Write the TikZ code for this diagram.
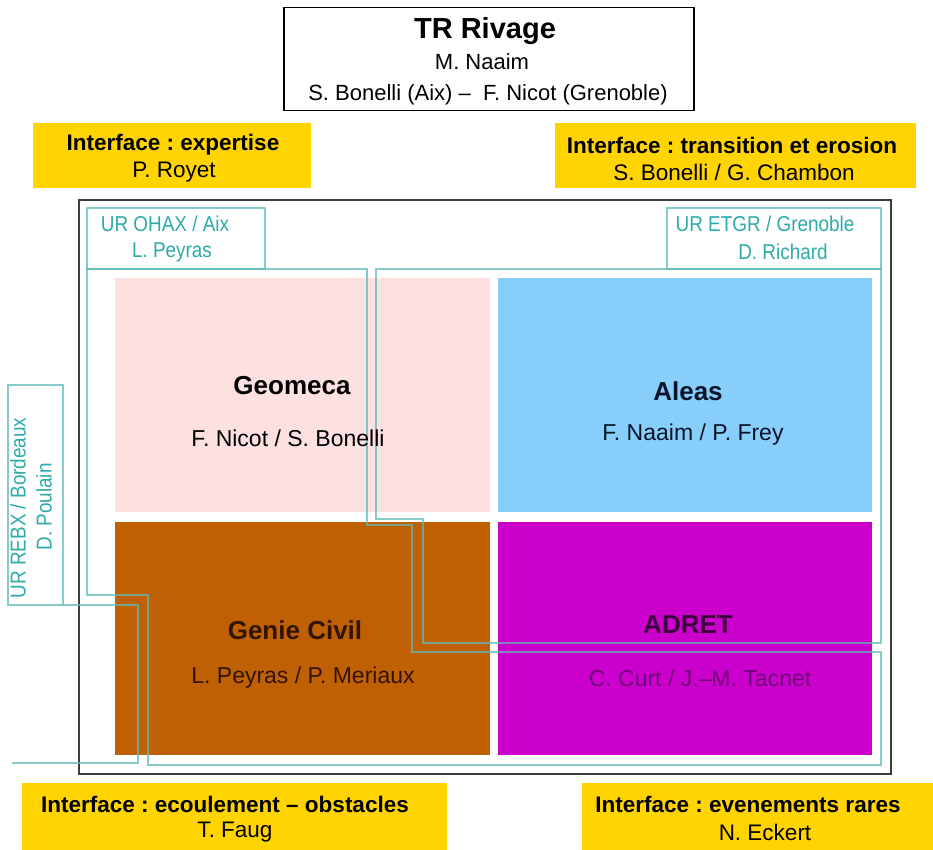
\documentclass[tikz,border=0pt]{standalone}
\usepackage{fontspec}
\setmainfont{Liberation Sans}
\newfontfamily\narrowsans[FakeStretch=0.88]{Liberation Sans}
\frenchspacing
\definecolor{gold}{RGB}{255,212,0}
\definecolor{tealline}{RGB}{95,185,185}
\definecolor{tealtext}{RGB}{45,170,170}
\definecolor{pinkfill}{RGB}{253,224,224}
\definecolor{bluefill}{RGB}{135,206,250}
\definecolor{brownfill}{RGB}{192,96,4}
\definecolor{magfill}{RGB}{204,0,204}
\definecolor{framegray}{RGB}{60,60,60}
\definecolor{browntext}{RGB}{50,20,0}
\definecolor{magtext}{RGB}{60,0,60}
\definecolor{magname}{RGB}{110,0,120}
\definecolor{navytext}{RGB}{10,20,40}
\tikzset{
  panel/.style={draw=none, inner sep=0pt, anchor=north west},
  ybox/.style={panel, fill=gold},
  title/.style={font=\fontsize{26}{30}\selectfont\bfseries},
  names/.style={font=\fontsize{23}{27}\selectfont},
  itf/.style={font=\fontsize{22.5}{26}\selectfont\bfseries},
  itfname/.style={font=\fontsize{22.5}{26}\selectfont},
  toptext/.style={font=\fontsize{22}{26}\selectfont},
  urtext/.style={font=\fontsize{21.5}{25}\narrowsans, text=tealtext},
  tline/.style={draw=tealline, line width=1.4pt, opacity=0.75}
}
\begin{document}
\begin{tikzpicture}[x=1pt,y=-1pt]
\useasboundingbox (0,0) rectangle (933,850);
\fill[white] (0,0) rectangle (933,850);

% yellow interface boxes
\node[ybox, minimum width=278pt, minimum height=65pt] (expbox) at (33,123) {};
\node[ybox, minimum width=361pt, minimum height=65pt] (transbox) at (555,123) {};
\node[ybox, minimum width=425pt, minimum height=67pt] (ecoulbox) at (22,783) {};
\node[ybox, minimum width=351pt, minimum height=67pt] (evenbox) at (582,783) {};

% top box
\node[panel, draw=black, line width=1.5pt, minimum width=410pt, minimum height=103pt] (trbox) at (283,7) {};

% coloured panels
\node[panel, fill=pinkfill, minimum width=375pt, minimum height=234pt] (geobox) at (115,278) {};
\node[panel, fill=bluefill, minimum width=374pt, minimum height=234pt] (alebox) at (498,278) {};
\node[panel, fill=brownfill, minimum width=375pt, minimum height=233pt] (gcbox) at (115,522) {};
\node[panel, fill=magfill, minimum width=374pt, minimum height=233pt] (adbox) at (498,522) {};

% main frame
\node[panel, draw=framegray, line width=2pt, minimum width=812pt, minimum height=574pt] (frame) at (78,199) {};

% teal unit outlines
\draw[tline] (87,208) rectangle (265,269);
\draw[tline] (87,269) -- (367,269) -- (367,525) -- (412,525) -- (412,652) -- (881,652) -- (881,765) -- (148,765) -- (148,595) -- (87,595) -- cycle;
\draw[tline] (667,208) rectangle (881,269);
\draw[tline] (376,269) -- (881,269) -- (881,643) -- (423,643) -- (423,519) -- (376,519) -- cycle;
\draw[tline] (8,385) rectangle (63,605);
\draw[tline] (63,605) -- (138,605) -- (138,763) -- (12,763);

% texts
\node[font=\fontsize{29}{33}\selectfont\bfseries] (trt) at (485,31) {TR Rivage};
\node[toptext] (trn) at (482,62) {M. Naaim};
\node[toptext] (trs) at (488,95) {S. Bonelli (Aix) --\ \ F. Nicot (Grenoble)};

\node[itf] (expt) at (173,145) {Interface : expertise};
\node[itfname] (expn) at (174,172) {P. Royet};
\node[itf] (transt) at (732,145) {Interface : transition et erosion};
\node[itfname] (transn) at (734,172) {S. Bonelli / G. Chambon};

\node[urtext] (ohaxt) at (165,224) {UR OHAX / Aix};
\node[urtext] (ohaxn) at (172,252) {L. Peyras};
\node[urtext] (etgrt) at (765,224) {UR ETGR / Grenoble};
\node[urtext] (etgrn) at (783,252) {D. Richard};
\node[urtext, rotate=90] (rebxt) at (18,508) {UR REBX / Bordeaux};
\node[urtext, rotate=90] (rebxn) at (44,507) {D. Poulain};

\node[title] (geot) at (292,386) {Geomeca};
\node[names] (geon) at (288,438) {F. Nicot / S. Bonelli};
\node[title, text=navytext] (alet) at (688,391) {Aleas};
\node[names, text=navytext] (alen) at (693,435) {F. Naaim / P. Frey};
\node[title, text=browntext] (gct) at (295,630) {Genie Civil};
\node[names, text=browntext] (gcn) at (303,678) {L. Peyras / P. Meriaux};
\node[title, text=magtext] (adt) at (688,625) {ADRET};
\node[names, text=magname] (adn) at (700,678) {C. Curt / J.--M. Tacnet};

\node[itf] (ecoult) at (225,804) {Interface : ecoulement -- obstacles};
\node[itfname] (ecouln) at (235,832) {T. Faug};
\node[itf] (event) at (748,804) {Interface : evenements rares};
\node[itfname] (evenn) at (765,832) {N. Eckert};
\end{tikzpicture}
\end{document}
